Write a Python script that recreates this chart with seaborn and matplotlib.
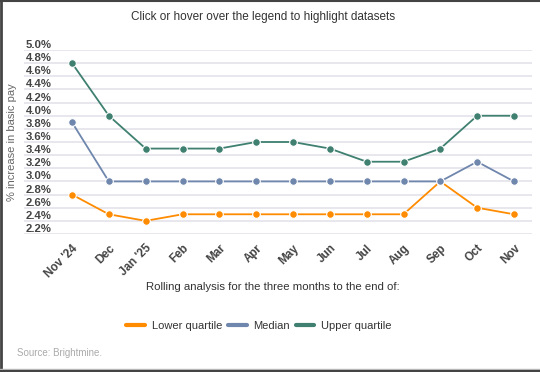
import matplotlib
matplotlib.use("Agg")
import matplotlib.pyplot as plt
import matplotlib.transforms as mtransforms
from matplotlib.lines import Line2D
import seaborn as sns
import pandas as pd

months = ["Nov '24", "Dec", "Jan '25", "Feb", "Mar", "Apr", "May",
          "Jun", "Jul", "Aug", "Sep", "Oct", "Nov"]
lower_quartile = [2.8, 2.5, 2.4, 2.5, 2.5, 2.5, 2.5, 2.5, 2.5, 2.5, 3.0, 2.6, 2.5]
median = [3.9, 3.0, 3.0, 3.0, 3.0, 3.0, 3.0, 3.0, 3.0, 3.0, 3.0, 3.3, 3.0]
upper_quartile = [4.8, 4.0, 3.5, 3.5, 3.5, 3.6, 3.6, 3.5, 3.3, 3.3, 3.5, 4.0, 4.0]
series_names = ["Lower quartile", "Median", "Upper quartile"]
y_ticks = [5.0, 4.8, 4.6, 4.4, 4.2, 4.0, 3.8, 3.6, 3.4, 3.2, 3.0, 2.8, 2.6, 2.4, 2.2]

colors = ["#ff8c00", "#6f86ad", "#3f8070"]

rows = []
for name, vals in zip(series_names, [lower_quartile, median, upper_quartile]):
    for m, v in zip(months, vals):
        rows.append({"month": m, "value": v, "series": name})
df = pd.DataFrame(rows)

sns.set_theme(style="white")
plt.rcParams["font.family"] = ["Liberation Sans", "DejaVu Sans"]

fig = plt.figure(figsize=(5.4, 3.72), dpi=100)
W, H = 540, 372
ax_left, ax_right, ax_top, ax_bottom = 24, 532, 50, 234
ax = fig.add_axes([ax_left / W, 1 - ax_bottom / H,
                   (ax_right - ax_left) / W, (ax_bottom - ax_top) / H])

sns.lineplot(data=df, x="month", y="value", hue="series", palette=colors,
             hue_order=series_names, marker="o", markersize=5.5,
             markeredgecolor="white", markeredgewidth=0.8, linewidth=1.3,
             ax=ax, legend=False, sort=False)

# x scale: first point at x=72 px, last at x=514 px
px_per = (514 - 72) / 12
ax.set_xlim(-(72 - ax_left) / px_per, 12 + (ax_right - 514) / px_per)
ax.set_ylim(2.2, 5.0)

ax.set_yticks(y_ticks)
ax.set_yticklabels([f"{t:.1f}%" for t in y_ticks])
ax.yaxis.grid(True, color="#e3e3ea", linewidth=1.2)
ax.set_axisbelow(True)
for s in ax.spines.values():
    s.set_visible(False)
ax.tick_params(axis="y", length=0, pad=-1, labelsize=8.2, labelcolor="#444444")
offset = mtransforms.ScaledTranslation(0, 0.06, fig.dpi_scale_trans)
for lab in ax.get_yticklabels():
    lab.set_horizontalalignment("left")
    lab.set_fontweight("bold")
    lab.set_transform(lab.get_transform() + offset)

ax.set_xticks(range(len(months)))
ax.set_xticklabels(months, rotation=45, ha="right", rotation_mode="anchor",
                   fontweight="bold", fontsize=8.4, color="#444444")
ax.tick_params(axis="x", length=0, pad=6)

ax.set_ylabel("% increase in basic pay", fontsize=8, color="#666666", labelpad=0)
ax.yaxis.set_label_coords(-12 / (ax_right - ax_left), 0.5)
ax.yaxis.label.set_verticalalignment("center")
ax.set_xlabel("Rolling analysis for the three months to the end of:",
              fontsize=8.2, color="#333333")
ax.xaxis.set_label_coords((273 - ax_left) / (ax_right - ax_left),
                          1 - (287 - ax_top) / (ax_bottom - ax_top))
ax.xaxis.label.set_verticalalignment("center")

fig.text(263 / W, 1 - 17 / H, "Click or hover over the legend to highlight datasets",
         ha="center", va="center", fontsize=8.5, color="#333333")

handles = [Line2D([0], [0], color=c, linewidth=3) for c in colors]
fig.legend(handles, series_names, loc="center", bbox_to_anchor=(259 / W, 1 - 326 / H),
           ncol=3, frameon=False, fontsize=8, handlelength=1.7, handletextpad=0.6,
           columnspacing=0.5, labelcolor="#333333")

fig.text(17 / W, 1 - 353 / H, "Source: Brightmine.", ha="left", va="center",
         fontsize=7, color="#aaaaaa")

# outer frame
fig.add_artist(Line2D([1 / W, 1 / W], [0, 1], transform=fig.transFigure,
                      color="#444444", linewidth=2))
fig.add_artist(Line2D([0, 1], [1 - 0.5 / H, 1 - 0.5 / H], transform=fig.transFigure,
                      color="#444444", linewidth=1.5))
fig.add_artist(Line2D([0, 1], [1 - 369 / H, 1 - 369 / H], transform=fig.transFigure,
                      color="#bbbbbb", linewidth=1))
fig.add_artist(Line2D([0, 1], [1 - 371 / H, 1 - 371 / H], transform=fig.transFigure,
                      color="#444444", linewidth=1.5))

fig.savefig("out.png", dpi=100)
